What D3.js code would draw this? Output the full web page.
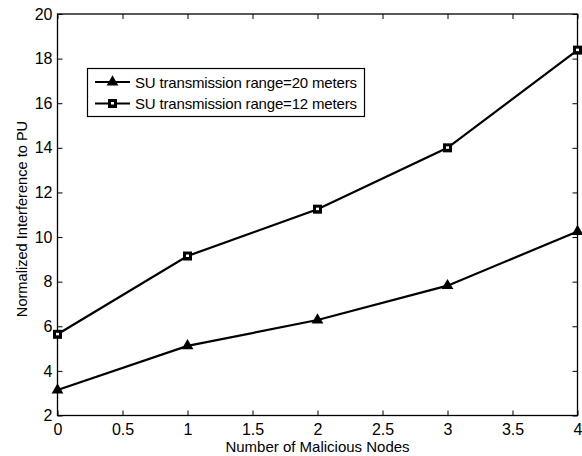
<!DOCTYPE html>
<html>
<head>
<meta charset="utf-8">
<script src="https://cdn.jsdelivr.net/npm/d3@7"></script>
<style>
  body { margin: 0; background: #fff; }
  svg { font-family: "Liberation Sans", Arial, sans-serif; }
</style>
</head>
<body>
<div id="viz-container"></div>
<script>
let vizWidth = 582;
let vizHeight = 456;

// dataset
let maliciousNodes = [0, 1, 2, 3, 4];
let range20 = [3.14, 5.12, 6.28, 7.82, 10.25];
let range12 = [5.64, 9.15, 11.25, 14.0, 18.38];
let seriesNames = ["SU transmission range=20 meters", "SU transmission range=12 meters"];
let xTicks = [0, 0.5, 1, 1.5, 2, 2.5, 3, 3.5, 4];
let yTicks = [2, 4, 6, 8, 10, 12, 14, 16, 18, 20];

let plotLeft = 57.5, plotRight = 577.5, plotTop = 14, plotBottom = 415.5;

let viz = d3.select("#viz-container")
    .append("svg")
        .attr("width", vizWidth)
        .attr("height", vizHeight)
        .style("background-color", "white")
;

let xScale = d3.scaleLinear().domain([0, 4]).range([plotLeft, plotRight]);
let yScale = d3.scaleLinear().domain([2, 20]).range([plotBottom, plotTop]);

// axes, ticks pointing inward like matlab
function styleAxis(g) {
    g.select(".domain").remove();
    g.selectAll(".tick line").attr("stroke", "#000").attr("stroke-width", 1);
    g.selectAll(".tick text").attr("fill", "#000").style("font-size", "16px");
}

viz.append("g")
    .attr("transform", "translate(0," + plotBottom + ")")
    .call(d3.axisBottom(xScale).tickValues(xTicks).tickSizeInner(-5).tickSizeOuter(0).tickPadding(8).tickFormat(d3.format("")))
    .call(styleAxis)
;
viz.append("g")
    .attr("transform", "translate(0," + plotTop + ")")
    .call(d3.axisTop(xScale).tickValues(xTicks).tickSizeInner(-5).tickSizeOuter(0).tickFormat(""))
    .call(styleAxis)
;
viz.append("g")
    .attr("transform", "translate(" + plotLeft + ",0)")
    .call(d3.axisLeft(yScale).tickValues(yTicks).tickSizeInner(-5).tickSizeOuter(0).tickPadding(5).tickFormat(d3.format("")))
    .call(styleAxis)
;
viz.append("g")
    .attr("transform", "translate(" + plotRight + ",0)")
    .call(d3.axisRight(yScale).tickValues(yTicks).tickSizeInner(-5).tickSizeOuter(0).tickFormat(""))
    .call(styleAxis)
;

// frame
viz.append("rect")
    .attr("x", plotLeft)
    .attr("y", plotTop)
    .attr("width", plotRight - plotLeft)
    .attr("height", plotBottom - plotTop)
    .attr("fill", "none")
    .attr("stroke", "#000")
    .attr("stroke-width", 1.3)
;

// lines
let line = d3.line()
    .x(function(d, i){ return xScale(maliciousNodes[i]); })
    .y(function(d){ return yScale(d); })
;

let allSeries = [range20, range12];
let markers = ["triangle", "square"];

function drawMarker(g, type, x, y) {
    if (type == "triangle") {
        g.append("path")
            .attr("d", d3.symbol().type(d3.symbolTriangle).size(60)())
            .attr("transform", "translate(" + x + "," + y + ")")
            .attr("fill", "#000");
    } else {
        g.append("rect")
            .attr("x", x - 4.5).attr("y", y - 4.5)
            .attr("width", 9).attr("height", 9)
            .attr("fill", "#000");
        g.append("rect")
            .attr("x", x - 1.5).attr("y", y - 1.5)
            .attr("width", 3).attr("height", 2.5)
            .attr("fill", "#fff");
    }
}

allSeries.forEach(function(s, k){
    viz.append("path")
        .datum(s)
        .attr("d", line)
        .attr("fill", "none")
        .attr("stroke", "#000")
        .attr("stroke-width", 2.2)
    ;
    let mg = viz.append("g");
    s.forEach(function(v, i){
        drawMarker(mg, markers[k], xScale(maliciousNodes[i]), yScale(v));
    });
});

// axis labels
viz.append("text")
    .attr("x", (plotLeft + plotRight) / 2)
    .attr("y", 452)
    .attr("text-anchor", "middle")
    .style("font-size", "15px")
    .text("Number of Malicious Nodes")
;
viz.append("text")
    .attr("transform", "translate(27,219) rotate(-90)")
    .attr("text-anchor", "middle")
    .style("font-size", "14.6px")
    .text("Normalized Interference to PU")
;

// legend
let legend = viz.append("g");
legend.append("rect")
    .attr("x", 87.5)
    .attr("y", 68.5)
    .attr("width", 277)
    .attr("height", 48)
    .attr("fill", "white")
    .attr("stroke", "#000")
    .attr("stroke-width", 1.2)
;
seriesNames.forEach(function(name, k){
    let ly = 82 + k * 21.5;
    legend.append("line")
        .attr("x1", 95).attr("x2", 130)
        .attr("y1", ly).attr("y2", ly)
        .attr("stroke", "#000").attr("stroke-width", 2.2);
    drawMarker(legend, markers[k], 112.5, ly);
    legend.append("text")
        .attr("x", 135)
        .attr("y", ly + 5.5)
        .style("font-size", "15px")
        .attr("textLength", 222)
        .attr("lengthAdjust", "spacing")
        .text(name);
});
</script>
</body>
</html>
